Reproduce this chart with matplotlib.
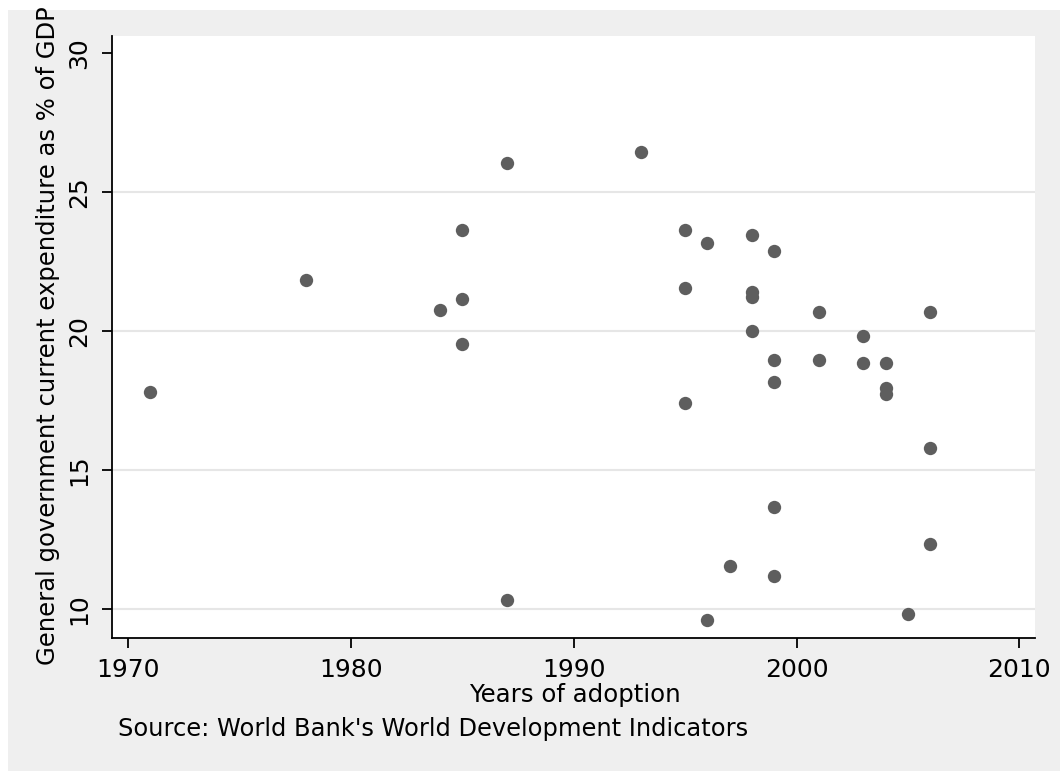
import matplotlib
matplotlib.use("Agg")
import matplotlib.pyplot as plt
from matplotlib.patches import Rectangle

# Year each country adopted the policy, and its government current expenditure (% of GDP)
years = [1971, 1978, 1984, 1985, 1985, 1985, 1987, 1987, 1993, 1995, 1995, 1995,
         1996, 1996, 1997, 1998, 1998, 1998, 1998, 1999, 1999, 1999, 1999, 1999,
         2001, 2001, 2003, 2003, 2004, 2004, 2004, 2005, 2006, 2006, 2006]
expenditure = [17.79, 21.82, 20.76, 23.64, 21.15, 19.52, 26.05, 10.30, 26.43, 23.64, 21.53, 17.40,
               23.16, 9.61, 11.55, 23.45, 21.39, 21.20, 20.00, 22.88, 18.94, 18.17, 13.66, 11.17,
               20.67, 18.94, 19.81, 18.84, 18.84, 17.93, 17.74, 9.81, 20.67, 15.77, 12.32]

x_ticks = [1970, 1980, 1990, 2000, 2010]
y_ticks = [10, 15, 20, 25, 30]
grid_levels = [10, 15, 20, 25]

W, H = 1060, 771
plt.rcParams['font.family'] = ['DejaVu Sans']

fig = plt.figure(figsize=(W / 100, H / 100), dpi=100, facecolor='white')
# graph region background
fig.patches.append(Rectangle((8 / W, 0), 1, 1 - 10 / H, transform=fig.transFigure,
                             facecolor='#efefef', edgecolor='none', zorder=-10))

ax = fig.add_axes([112 / W, 1 - 638 / H, 923 / W, 602 / H])
ax.set_facecolor('white')

for lvl in grid_levels:
    ax.axhline(lvl, color='#e6e6e6', lw=1.5, zorder=1)

ax.plot(years, expenditure, linestyle='none', marker='o', markersize=9.6,
        markerfacecolor='#5e5e5e', markeredgewidth=0, zorder=3)

ax.set_xlim(1969.28, 2010.70)
ax.set_ylim(8.945, 30.61)
ax.set_xticks(x_ticks)
ax.set_yticks(y_ticks)
ax.set_xticklabels([str(t) for t in x_ticks])
ax.set_yticklabels([str(t) for t in y_ticks])

for side in ('top', 'right'):
    ax.spines[side].set_visible(False)
for side in ('left', 'bottom'):
    ax.spines[side].set_linewidth(1.3)
    ax.spines[side].set_color('black')

ax.tick_params(axis='both', direction='out', length=7.2, width=1.3, colors='black',
               labelsize=18)
ax.tick_params(axis='x', pad=7)
ax.tick_params(axis='y', pad=8)
for lab in ax.get_yticklabels():
    lab.set_rotation(90)
    lab.set_va('center')

fig.text(48 / W, 1 - 336 / H, 'General government current expenditure as % of GDP',
         rotation=90, ha='center', va='center', fontsize=17.5)
fig.text(575 / W, 1 - 702 / H, 'Years of adoption', ha='center', va='baseline', fontsize=17.6)
fig.text(118 / W, 1 - 736 / H, "Source: World Bank's World Development Indicators",
         ha='left', va='baseline', fontsize=17.4)

fig.savefig('out.png', dpi=100, facecolor=fig.get_facecolor())
